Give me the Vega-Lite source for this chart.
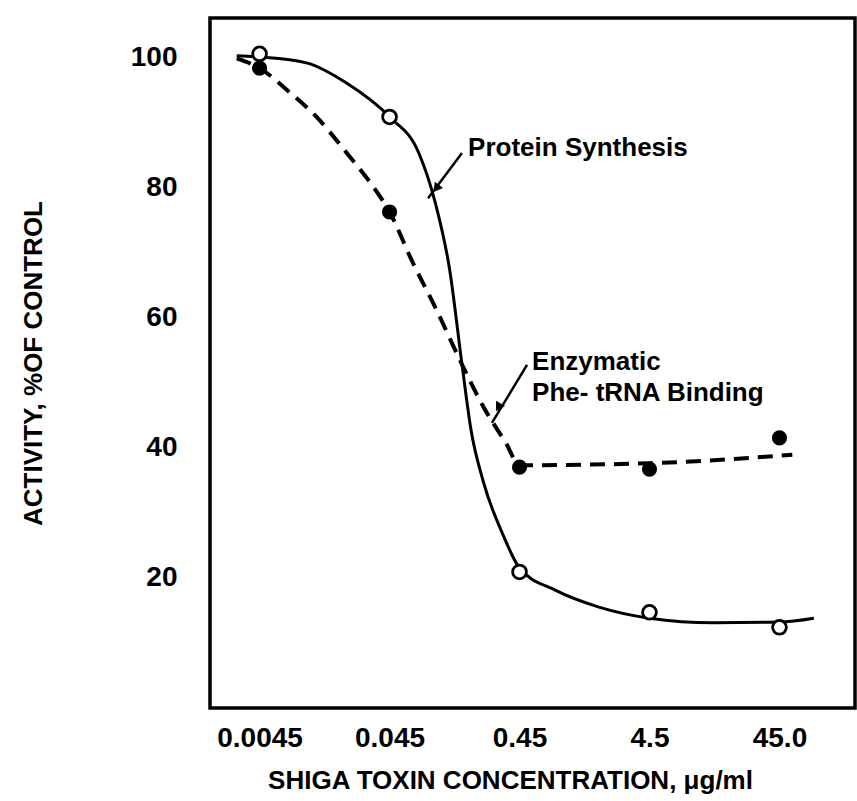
{
  "$schema": "https://vega.github.io/schema/vega-lite/v6.json",
  "width": 645,
  "height": 690,
  "autosize": "none",
  "padding": {"left": 210, "top": 18, "right": 2, "bottom": 93},
  "background": "white",
  "config": {
    "view": {"stroke": "black", "strokeWidth": 3.5},
    "font": "Liberation Sans"
  },
  "datasets": {
    "curves": [
      {"series": "protein", "conc": 0.0030, "activity": 100.2},
      {"series": "protein", "conc": 0.0045, "activity": 100},
      {"series": "protein", "conc": 0.01034, "activity": 99.1},
      {"series": "protein", "conc": 0.0210, "activity": 96.0},
      {"series": "protein", "conc": 0.045, "activity": 90.8},
      {"series": "protein", "conc": 0.0754, "activity": 85.3},
      {"series": "protein", "conc": 0.1009, "activity": 77.7},
      {"series": "protein", "conc": 0.1306, "activity": 67.3},
      {"series": "protein", "conc": 0.1633, "activity": 52.4},
      {"series": "protein", "conc": 0.1906, "activity": 42.7},
      {"series": "protein", "conc": 0.2383, "activity": 34.6},
      {"series": "protein", "conc": 0.336, "activity": 26.6},
      {"series": "protein", "conc": 0.45, "activity": 21.5},
      {"series": "protein", "conc": 0.847, "activity": 18.1},
      {"series": "protein", "conc": 1.836, "activity": 15.5},
      {"series": "protein", "conc": 4.5, "activity": 13.8},
      {"series": "protein", "conc": 13.98, "activity": 13.1},
      {"series": "protein", "conc": 45, "activity": 13.2},
      {"series": "protein", "conc": 82.8, "activity": 13.8},
      {"series": "phe", "conc": 0.0030, "activity": 99.8},
      {"series": "phe", "conc": 0.0045, "activity": 98.3},
      {"series": "phe", "conc": 0.00766, "activity": 94.6},
      {"series": "phe", "conc": 0.01235, "activity": 90.8},
      {"series": "phe", "conc": 0.0210, "activity": 85.3},
      {"series": "phe", "conc": 0.0339, "activity": 80.0},
      {"series": "phe", "conc": 0.045, "activity": 76.2},
      {"series": "phe", "conc": 0.068, "activity": 68.4},
      {"series": "phe", "conc": 0.1009, "activity": 61.6},
      {"series": "phe", "conc": 0.1605, "activity": 53.0},
      {"series": "phe", "conc": 0.2383, "activity": 46.2},
      {"series": "phe", "conc": 0.3537, "activity": 40.7},
      {"series": "phe", "conc": 0.45, "activity": 37.3},
      {"series": "phe", "conc": 4.5, "activity": 37.6},
      {"series": "phe", "conc": 56.5, "activity": 38.9}
    ],
    "points": [
      {"series": "protein", "conc": 0.0045, "activity": 100.5},
      {"series": "protein", "conc": 0.045, "activity": 90.8},
      {"series": "protein", "conc": 0.45, "activity": 20.9},
      {"series": "protein", "conc": 4.5, "activity": 14.7},
      {"series": "protein", "conc": 45, "activity": 12.4},
      {"series": "phe", "conc": 0.0045, "activity": 98.3},
      {"series": "phe", "conc": 0.045, "activity": 76.2},
      {"series": "phe", "conc": 0.45, "activity": 37.0},
      {"series": "phe", "conc": 4.5, "activity": 36.7},
      {"series": "phe", "conc": 45, "activity": 41.5}
    ],
    "labels": [
      {"text": "Protein Synthesis", "conc": 0.181, "activity": 86.0},
      {"text": "Enzymatic", "conc": 0.562, "activity": 53.1},
      {"text": "Phe- tRNA Binding", "conc": 0.562, "activity": 48.4}
    ],
    "arrows": [
      {"which": "protein", "conc": 0.1625, "activity": 85.25, "conc2": 0.089, "activity2": 78.3, "headConc": 0.1046, "headActivity": 80.0},
      {"which": "phe", "conc": 0.514, "activity": 52.7, "conc2": 0.276, "activity2": 43.8, "headConc": 0.313, "headActivity": 46.4}
    ],
    "yticks": [
      {"activity": 20}, {"activity": 40}, {"activity": 60}, {"activity": 80}, {"activity": 100}
    ],
    "xticks": [
      {"conc": 0.0045}, {"conc": 0.045}, {"conc": 0.45}, {"conc": 4.5}, {"conc": 45}
    ]
  },
  "encoding": {
    "x": {
      "field": "conc",
      "type": "quantitative",
      "scale": {"type": "log", "domain": [0.00187, 171.5], "nice": false, "zero": false},
      "axis": {
        "values": [0.0045, 0.045, 0.45, 4.5, 45],
        "labelExpr": "datum.value >= 40 ? '45.0' : datum.value >= 4 ? '4.5' : datum.value >= 0.4 ? '0.45' : datum.value >= 0.04 ? '0.045' : '0.0045'",
        "grid": false,
        "domain": false,
        "ticks": false,
        "labelFont": "Liberation Sans",
        "labelFontSize": 28,
        "labelFontWeight": "bold",
        "labelColor": "black",
        "labelPadding": 16,
        "labelFlush": false,
        "labelOverlap": false,
        "labelBound": false,
        "title": "SHIGA TOXIN CONCENTRATION, \u03bcg/ml",
        "titleFont": "Liberation Sans",
        "titleFontSize": 26,
        "titleFontWeight": "bold",
        "titleColor": "black",
        "titleX": 300,
        "titleY": 72,
        "titleBaseline": "middle"
      }
    },
    "y": {
      "field": "activity",
      "type": "quantitative",
      "scale": {"domain": [0, 106], "nice": false, "zero": false},
      "axis": {
        "values": [20, 40, 60, 80, 100],
        "grid": false,
        "domain": false,
        "ticks": false,
        "labelFont": "Liberation Sans",
        "labelFontSize": 28,
        "labelFontWeight": "bold",
        "labelColor": "black",
        "labelPadding": 33,
        "labelFlush": false,
        "labelOverlap": false,
        "labelBound": false,
        "title": "ACTIVITY, %OF CONTROL",
        "titleFont": "Liberation Sans",
        "titleFontSize": 26,
        "titleFontWeight": "bold",
        "titleColor": "black",
        "titleAngle": -90,
        "titleX": -177,
        "titleY": 345,
        "titleAlign": "center",
        "titleBaseline": "middle"
      }
    }
  },
  "layer": [
    {
      "data": {"name": "yticks"},
      "mark": {"type": "point", "shape": "M0,-0.1667H2V0.1667H0Z", "filled": true, "color": "black", "opacity": 1, "strokeWidth": 0, "size": 324},
      "encoding": {
        "x": {"datum": 0.00187, "type": "quantitative"},
        "y": {"field": "activity", "type": "quantitative"}
      }
    },
    {
      "data": {"name": "xticks"},
      "mark": {"type": "point", "shape": "M-0.1667,0V-2H0.1667V0Z", "filled": true, "color": "black", "opacity": 1, "strokeWidth": 0, "size": 324},
      "encoding": {
        "x": {"field": "conc", "type": "quantitative"},
        "y": {"datum": 0, "type": "quantitative"}
      }
    },
    {
      "data": {"name": "curves"},
      "transform": [{"filter": "datum.series == 'protein'"}],
      "mark": {"type": "line", "color": "black", "strokeWidth": 3, "interpolate": "monotone"}
    },
    {
      "data": {"name": "curves"},
      "transform": [{"filter": "datum.series == 'phe'"}],
      "mark": {"type": "line", "color": "black", "strokeWidth": 4, "strokeDash": [15, 9], "interpolate": "monotone"}
    },
    {
      "data": {"name": "arrows"},
      "mark": {"type": "rule", "color": "black", "strokeWidth": 2.5},
      "encoding": {
        "x2": {"field": "conc2"},
        "y2": {"field": "activity2"}
      }
    },
    {
      "data": {"name": "arrows"},
      "transform": [{"filter": "datum.which == 'protein'"}],
      "mark": {"type": "point", "shape": "triangle", "filled": true, "color": "black", "opacity": 1, "size": 110, "angle": 217},
      "encoding": {
        "x": {"field": "headConc", "type": "quantitative"},
        "y": {"field": "headActivity", "type": "quantitative"}
      }
    },
    {
      "data": {"name": "arrows"},
      "transform": [{"filter": "datum.which == 'phe'"}],
      "mark": {"type": "point", "shape": "triangle", "filled": true, "color": "black", "opacity": 1, "size": 110, "angle": 211},
      "encoding": {
        "x": {"field": "headConc", "type": "quantitative"},
        "y": {"field": "headActivity", "type": "quantitative"}
      }
    },
    {
      "data": {"name": "points"},
      "transform": [{"filter": "datum.series == 'protein'"}],
      "mark": {"type": "point", "shape": "circle", "filled": true, "fill": "white", "stroke": "black", "strokeWidth": 2.8, "opacity": 1, "size": 190}
    },
    {
      "data": {"name": "points"},
      "transform": [{"filter": "datum.series == 'phe'"}],
      "mark": {"type": "point", "shape": "circle", "filled": true, "color": "black", "opacity": 1, "size": 230}
    },
    {
      "data": {"name": "labels"},
      "mark": {"type": "text", "align": "left", "baseline": "middle", "font": "Liberation Sans", "fontSize": 26, "fontWeight": "bold", "color": "black"},
      "encoding": {"text": {"field": "text"}}
    }
  ]
}
